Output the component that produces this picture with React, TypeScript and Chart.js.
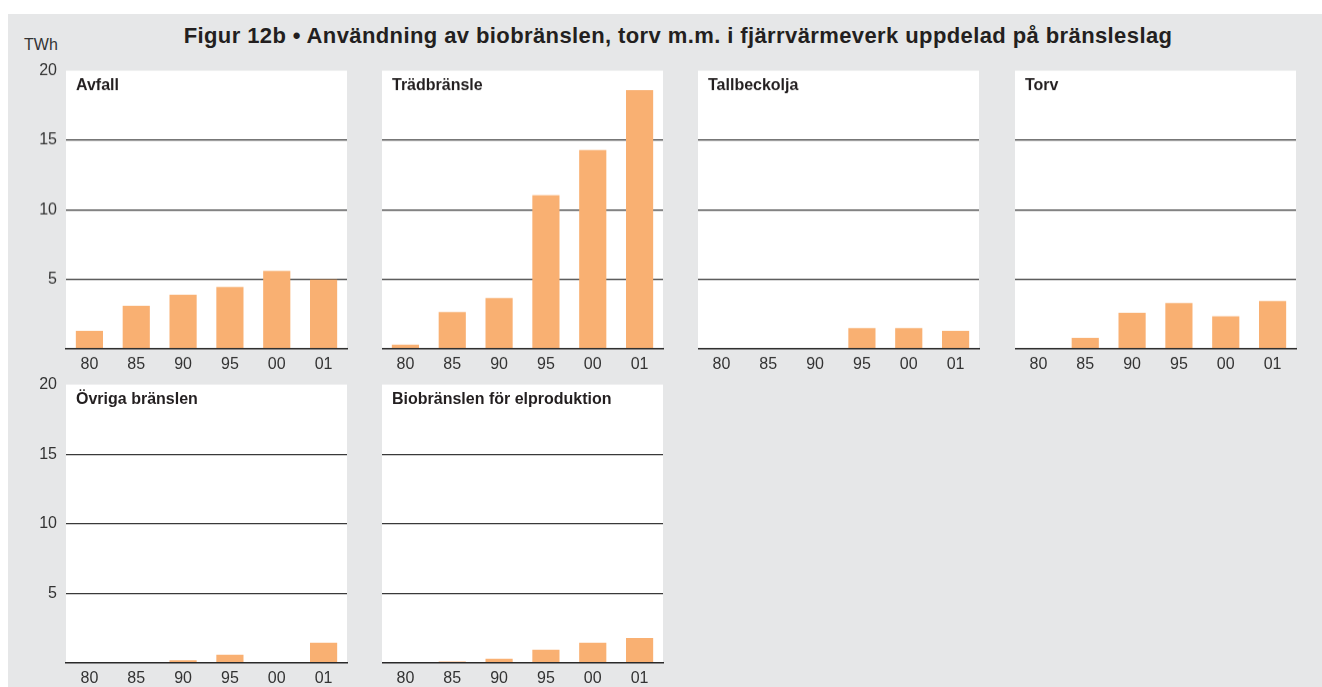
import React, { useEffect, useRef } from "react";
import { Chart, registerables } from "chart.js";
Chart.register(...registerables);

// ---------- data ----------
const years = ["80", "85", "90", "95", "00", "01"];
const yTickValues = [0, 5, 10, 15, 20];
const yTickLabels = ["", "5", "10", "15", "20"];
const panelTitles = [
  "Avfall",
  "Trädbränsle",
  "Tallbeckolja",
  "Torv",
  "Övriga bränslen",
  "Biobränslen för elproduktion",
];
const avfall = [1.3, 3.1, 3.9, 4.45, 5.6, 5.0];
const tradbransle = [0.3, 2.65, 3.65, 11.05, 14.3, 18.6];
const tallbeckolja = [0, 0, 0, 1.5, 1.5, 1.3];
const torv = [0, 0.8, 2.6, 3.3, 2.35, 3.45];
const ovriga = [0, 0, 0.2, 0.6, 0, 1.45];
const elproduktion = [0, 0.1, 0.3, 0.95, 1.45, 1.8];
const mainTitle =
  "Figur 12b • Användning av biobränslen, torv m.m. i fjärrvärmeverk uppdelad på bränsleslag";
const unitLabel = "TWh";

const seriesList = [avfall, tradbransle, tallbeckolja, torv, ovriga, elproduktion];

// ---------- layout / style ----------
const COL_LEFT = [66, 382, 698, 1015];
const PLOT_W = 281;
const ROW_TOP = [70, 384];
const ROW_H = [278.5, 279];
const PAD_TOP = 14;
const EXTRA_TOP = 4;
const X_H = 30;
const Y_W = 58;
const BG = "#e6e7e8";
const BAR = "#f9b072";
const FONT = "'Liberation Sans', Arial, Helvetica, sans-serif";
const TEXT = "#231f20";

const panelPlugin = {
  id: "panelBg",
  beforeDraw(chart: any) {
    const { ctx, chartArea } = chart;
    ctx.save();
    ctx.fillStyle = "#ffffff";
    ctx.fillRect(chartArea.left, chartArea.top, chartArea.right - chartArea.left, chartArea.bottom - chartArea.top);
    ctx.restore();
  },
  afterDraw(chart: any, _args: any, opts: any) {
    const { ctx, chartArea } = chart;
    ctx.save();
    ctx.font = `bold 16px ${FONT}`;
    ctx.fillStyle = TEXT;
    ctx.textBaseline = "alphabetic";
    ctx.textAlign = "left";
    ctx.fillText(opts.title || "", chartArea.left + 10, chartArea.top + 19.5);
    ctx.restore();
  },
};

function Panel({ title, values, col, row }: { title: string; values: number[]; col: number; row: number }) {
  const ref = useRef<HTMLCanvasElement | null>(null);
  const showY = col === 0;
  const yW = showY ? Y_W : 0;
  const width = yW + PLOT_W + 2;
  const height = PAD_TOP + EXTRA_TOP + ROW_H[row] + X_H;
  const left = COL_LEFT[col] - yW;
  const top = ROW_TOP[row] - PAD_TOP - EXTRA_TOP;

  useEffect(() => {
    if (!ref.current) return;
    const chart = new Chart(ref.current, {
      type: "bar",
      data: {
        labels: years,
        datasets: [
          {
            data: values,
            backgroundColor: BAR,
            borderWidth: 0,
            barPercentage: 0.58,
            categoryPercentage: 1,
          },
        ],
      },
      options: {
        responsive: false,
        animation: false,
        devicePixelRatio: 1,
        layout: { padding: { top: PAD_TOP, right: 2, left: 0, bottom: 0 } },
        plugins: {
          legend: { display: false },
          tooltip: { enabled: false },
          title: { display: false },
          panelBg: { title },
        } as any,
        scales: {
          x: {
            grid: { display: false, drawTicks: false },
            border: { display: true, color: "#2a2a2a", width: 1.5, z: 1 } as any,
            ticks: { padding: 6, color: "#333", font: { family: FONT, size: 16 }, maxRotation: 0 },
            afterFit: (s: any) => {
              s.height = X_H;
            },
          },
          y: {
            min: 0,
            max: 20,
            afterBuildTicks: (s: any) => {
              s.ticks = yTickValues.map((v) => ({ value: v }));
            },
            grid: {
              drawTicks: false,
              lineWidth: 1.2,
              color: (c: any) =>
                c.tick && (c.tick.value === 0 || c.tick.value === 20) ? "rgba(0,0,0,0)" : "#3a3a3a",
            },
            border: { display: false },
            ticks: {
              display: true,
              padding: 9,
              color: showY ? "#333" : "rgba(0,0,0,0)",
              font: { family: FONT, size: 16 },
              callback: (_v: any, i: number) => (showY ? yTickLabels[i] : ""),
            },
            afterFit: (s: any) => {
              s.width = yW;
            },
          },
        },
      },
      plugins: [panelPlugin],
    });
    return () => chart.destroy();
  }, []);

  return (
    <canvas
      ref={ref}
      width={width}
      height={height}
      style={{ position: "fixed", left, top, width, height }}
    />
  );
}

export default function App() {
  return (
    <div>
      <div
        style={{
          position: "fixed",
          left: 8,
          top: 14,
          width: 1314,
          height: 673,
          background: BG,
        }}
      />
      <div
        style={{
          position: "fixed",
          left: 678,
          top: 24.5,
          transform: "translateX(-50%)",
          whiteSpace: "nowrap",
          fontFamily: FONT,
          fontWeight: "bold",
          fontSize: 22,
          letterSpacing: "0.4px",
          lineHeight: "22px",
          color: TEXT,
        }}
      >
        {mainTitle}
      </div>
      <div
        style={{
          position: "fixed",
          left: 24,
          top: 37,
          fontFamily: FONT,
          fontSize: 16,
          lineHeight: "16px",
          color: "#333",
        }}
      >
        {unitLabel}
      </div>
      {seriesList.map((vals, i) => (
        <Panel key={i} title={panelTitles[i]} values={vals} col={i % 4} row={Math.floor(i / 4)} />
      ))}
    </div>
  );
}
